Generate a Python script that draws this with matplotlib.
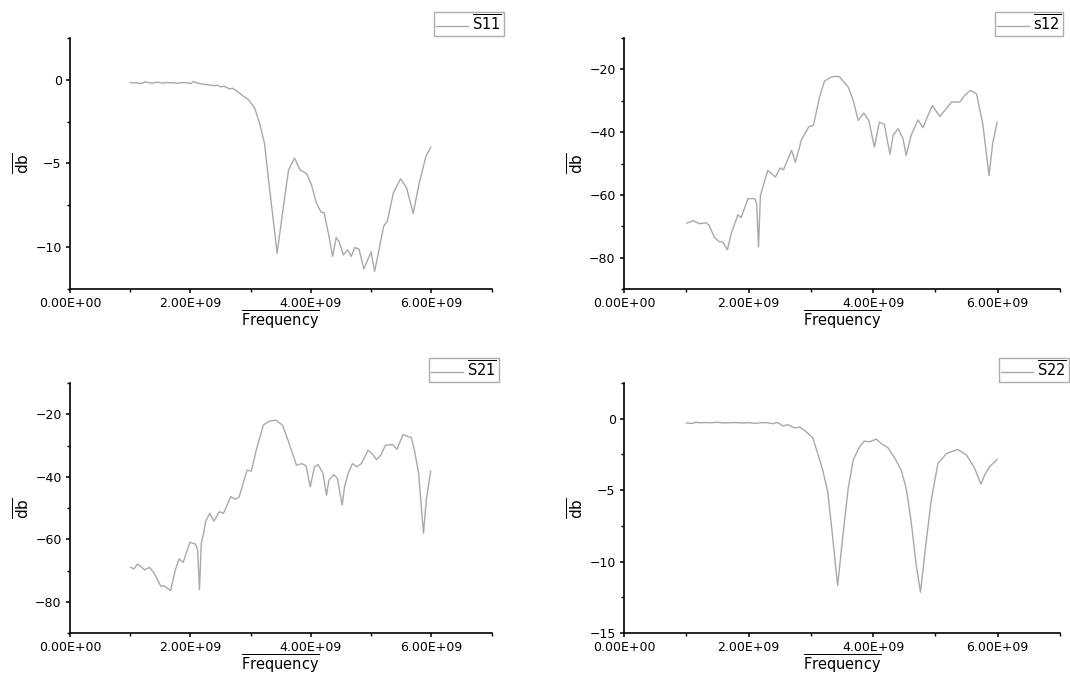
import matplotlib
matplotlib.use('Agg')
import matplotlib.pyplot as plt
from matplotlib.ticker import MultipleLocator, FuncFormatter

# S11 (frequency in GHz, magnitude in dB)
s11_freq = [1.0, 1.05, 1.1, 1.15, 1.2, 1.25, 1.3, 1.35, 1.4, 1.45, 1.5, 1.55, 1.6, 1.7, 1.8,
            1.9, 2.0, 2.05, 2.1, 2.2, 2.3, 2.4, 2.45, 2.5, 2.55, 2.6, 2.65, 2.7, 2.75, 2.8,
            2.86, 2.95, 3.0, 3.07, 3.15, 3.23, 3.31, 3.44, 3.53, 3.63, 3.73, 3.82, 3.93,
            4.01, 4.09, 4.17, 4.22, 4.30, 4.36, 4.42, 4.47, 4.54, 4.61, 4.67, 4.73, 4.80,
            4.88, 5.00, 5.06, 5.21, 5.27, 5.37, 5.49, 5.59, 5.70, 5.80, 5.91, 5.99]
s11_db = [-0.16, -0.18, -0.17, -0.22, -0.2, -0.12, -0.16, -0.2, -0.18, -0.14, -0.17, -0.2,
          -0.16, -0.18, -0.2, -0.16, -0.22, -0.1, -0.18, -0.25, -0.3, -0.35, -0.32, -0.42,
          -0.38, -0.45, -0.55, -0.5, -0.62, -0.75, -0.93, -1.15, -1.35, -1.72, -2.61, -3.79,
          -6.37, -10.36, -7.94, -5.38, -4.68, -5.38, -5.61, -6.27, -7.35, -7.91, -7.94,
          -9.33, -10.55, -9.43, -9.69, -10.47, -10.16, -10.55, -10.02, -10.12, -11.30,
          -10.28, -11.44, -8.74, -8.44, -6.76, -5.91, -6.46, -7.98, -6.16, -4.59, -4.03]

# S12
s12_freq = [1.01, 1.05, 1.11, 1.21, 1.32, 1.37, 1.45, 1.53, 1.59, 1.66, 1.72, 1.83, 1.88,
            1.99, 2.10, 2.13, 2.16, 2.19, 2.26, 2.31, 2.43, 2.51, 2.56, 2.69, 2.75, 2.85,
            2.97, 3.04, 3.14, 3.22, 3.33, 3.40, 3.46, 3.60, 3.68, 3.76, 3.85, 3.93, 4.02,
            4.10, 4.18, 4.27, 4.32, 4.40, 4.48, 4.53, 4.61, 4.72, 4.80, 4.88, 4.95, 5.07,
            5.26, 5.39, 5.47, 5.56, 5.66, 5.76, 5.86, 5.92, 5.99]
s12_db = [-69.0, -68.7, -68.2, -69.2, -68.9, -69.8, -73.5, -74.9, -75.1, -77.5, -72.4,
          -66.3, -67.3, -61.2, -61.2, -62.8, -76.6, -60.2, -55.4, -52.2, -54.3, -51.4,
          -52.0, -45.8, -49.6, -42.4, -38.2, -37.9, -28.8, -23.7, -22.4, -22.2, -22.4,
          -25.6, -29.9, -36.3, -33.9, -36.3, -44.8, -36.8, -37.5, -47.1, -41.0, -38.9,
          -42.1, -47.4, -41.0, -36.1, -38.6, -34.7, -31.5, -35.0, -30.4, -30.4, -28.3,
          -26.7, -27.8, -37.3, -53.8, -43.5, -36.9]

# S21
s21_freq = [1.01, 1.06, 1.12, 1.17, 1.24, 1.32, 1.40, 1.51, 1.56, 1.62, 1.67, 1.75, 1.81,
            1.88, 1.99, 2.08, 2.12, 2.15, 2.18, 2.22, 2.25, 2.32, 2.39, 2.48, 2.55, 2.67,
            2.75, 2.81, 2.94, 3.01, 3.10, 3.21, 3.31, 3.42, 3.53, 3.63, 3.76, 3.85, 3.92,
            3.99, 4.06, 4.12, 4.20, 4.26, 4.30, 4.38, 4.44, 4.52, 4.56, 4.62, 4.69, 4.76,
            4.84, 4.95, 5.03, 5.09, 5.16, 5.24, 5.36, 5.43, 5.53, 5.67, 5.72, 5.79, 5.87,
            5.92, 5.99]
s21_db = [-69.0, -69.5, -68.0, -68.6, -69.8, -69.0, -70.9, -75.1, -74.9, -75.7, -76.4,
          -69.8, -66.3, -67.4, -61.0, -61.5, -63.4, -76.2, -61.3, -58.1, -54.4, -51.7,
          -54.2, -51.2, -51.7, -46.4, -47.2, -46.4, -37.9, -38.2, -31.0, -23.5, -22.2,
          -21.9, -23.5, -28.8, -36.3, -35.8, -36.5, -43.2, -36.8, -36.1, -38.9, -45.9,
          -41.1, -39.3, -40.5, -49.1, -43.2, -38.9, -35.8, -36.8, -35.8, -31.5, -32.9,
          -34.5, -33.1, -29.9, -29.7, -31.2, -26.5, -27.5, -31.5, -38.9, -58.1, -47.0,
          -38.2]

# S22
s22_freq = [1.0, 1.05, 1.1, 1.15, 1.2, 1.3, 1.4, 1.5, 1.6, 1.7, 1.8, 1.9, 2.0, 2.1, 2.2,
            2.3, 2.4, 2.45, 2.50, 2.55, 2.63, 2.74, 2.82, 2.93, 3.03, 3.11, 3.19, 3.27,
            3.34, 3.43, 3.51, 3.60, 3.68, 3.78, 3.86, 3.94, 4.05, 4.13, 4.24, 4.35, 4.45,
            4.53, 4.61, 4.69, 4.76, 4.84, 4.93, 5.04, 5.18, 5.36, 5.50, 5.63, 5.73, 5.79,
            5.87, 5.99]
s22_db = [-0.30, -0.32, -0.33, -0.25, -0.28, -0.27, -0.28, -0.25, -0.3, -0.28, -0.27,
          -0.3, -0.27, -0.33, -0.28, -0.28, -0.35, -0.26, -0.35, -0.51, -0.42, -0.65,
          -0.58, -0.93, -1.34, -2.43, -3.59, -5.09, -7.87, -11.69, -8.33, -4.86, -2.89,
          -1.97, -1.57, -1.62, -1.43, -1.74, -2.04, -2.78, -3.59, -4.86, -7.18, -10.19,
          -12.15, -9.03, -5.79, -3.13, -2.43, -2.15, -2.55, -3.47, -4.58, -3.94, -3.36,
          -2.85]

line_color = '#a9a9a9'


def draw_panel(fig, rect, freq, db, name, ylim, ystep, legend_xy):
    ax = fig.add_axes(rect)
    ln, = ax.plot([f * 1e9 for f in freq], db, color=line_color, lw=1.0)
    ax.set_xlim(0, 7e9)
    ax.set_ylim(*ylim)
    ax.xaxis.set_major_locator(MultipleLocator(2e9))
    ax.xaxis.set_minor_locator(MultipleLocator(1e9))
    ax.yaxis.set_major_locator(MultipleLocator(ystep))
    ax.yaxis.set_minor_locator(MultipleLocator(ystep / 2))
    ax.xaxis.set_major_formatter(FuncFormatter(lambda v, p: '{:.2E}'.format(v)))
    for side in ['top', 'right']:
        ax.spines[side].set_visible(False)
    for side in ['left', 'bottom']:
        ax.spines[side].set_linewidth(1.2)
    ax.tick_params(which='major', direction='out', length=3, width=1.1, labelsize=9, pad=3)
    ax.tick_params(which='minor', direction='out', length=2, width=1.0)
    ax.set_xlabel(r'$\overline{\mathrm{Frequency}}$', fontsize=10.5, labelpad=-1)
    ax.set_ylabel(r'$\overline{\mathrm{db}}$', fontsize=11, labelpad=2)
    leg = ax.legend([ln], [r'$\overline{\mathrm{' + name + '}}$'], loc='upper right',
                    bbox_to_anchor=legend_xy, bbox_transform=fig.transFigure,
                    fancybox=False, edgecolor='#999999', fontsize=10.5, handlelength=2.2,
                    handletextpad=0.3, borderpad=0.12, borderaxespad=0)
    leg.get_frame().set_linewidth(1.0)
    return ax


fig = plt.figure(figsize=(10.7, 6.78), dpi=100)

W = 1070.0
H = 678.0
draw_panel(fig, [70 / W, 1 - 289 / H, 421.5 / W, 251 / H], s11_freq, s11_db, 'S11',
           (-12.5, 2.5), 5, (504 / W, 1 - 12 / H))
draw_panel(fig, [624 / W, 1 - 289 / H, 436 / W, 251 / H], s12_freq, s12_db, 's12',
           (-90, -10), 20, (1063 / W, 1 - 12 / H))
draw_panel(fig, [70 / W, 1 - 633 / H, 421.5 / W, 250 / H], s21_freq, s21_db, 'S21',
           (-90, -10), 20, (499 / W, 1 - 358 / H))
draw_panel(fig, [624 / W, 1 - 633 / H, 436 / W, 250 / H], s22_freq, s22_db, 'S22',
           (-15, 2.5), 5, (1069 / W, 1 - 358 / H))

fig.savefig('out.png', dpi=100)
